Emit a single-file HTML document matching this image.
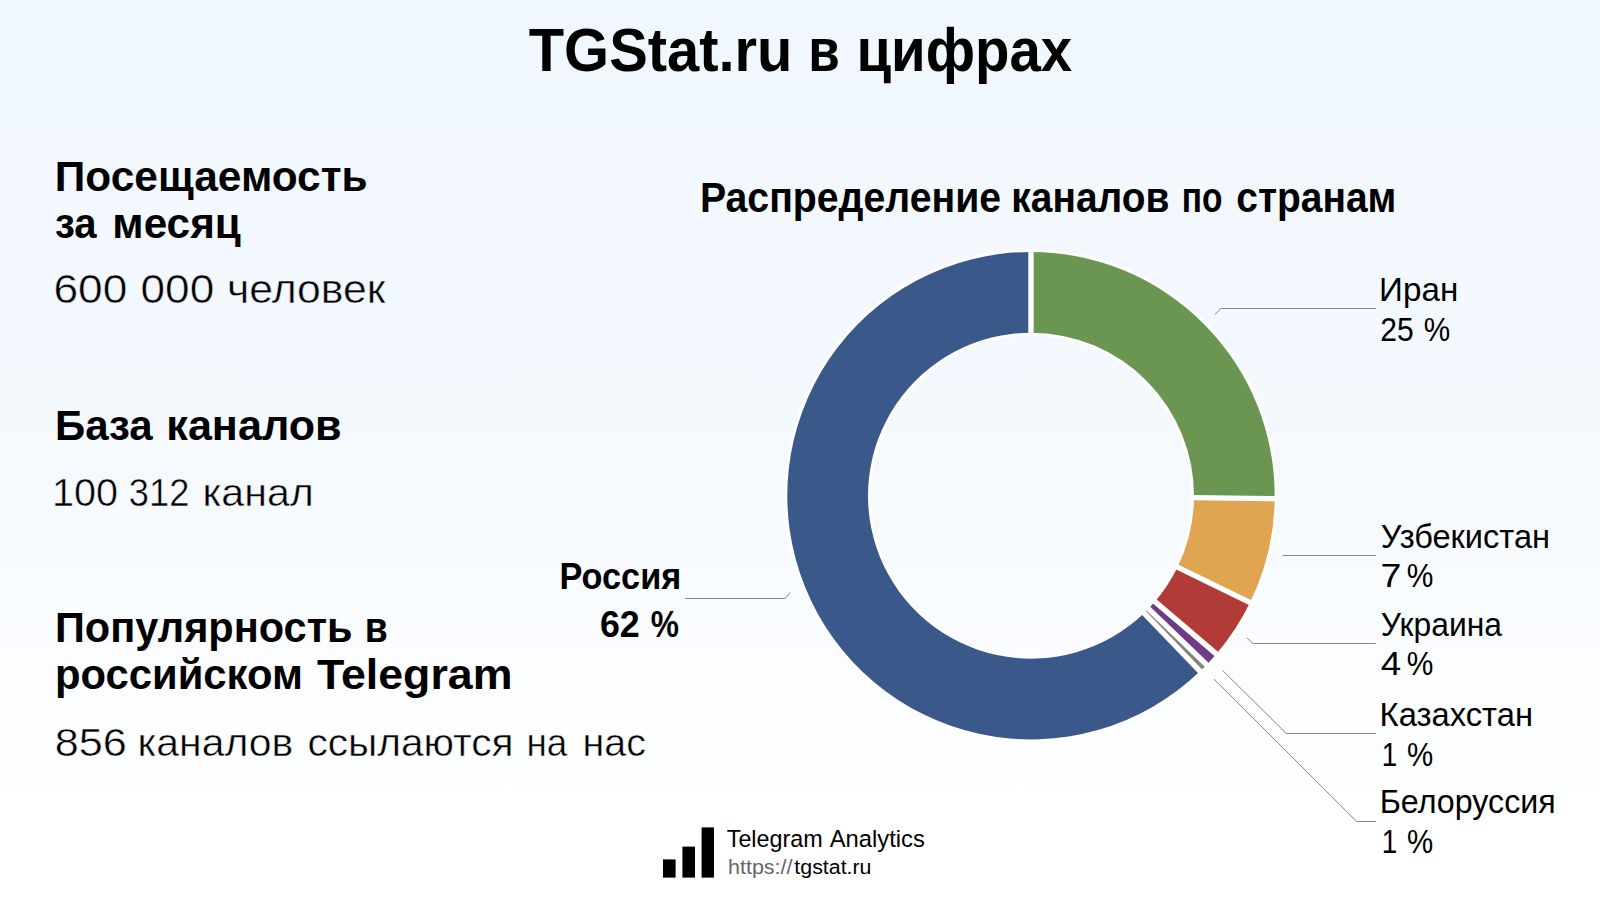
<!DOCTYPE html>
<html lang="ru">
<head>
<meta charset="utf-8">
<title>TGStat.ru в цифрах</title>
<style>
html,body{margin:0;padding:0;}
body{width:1600px;height:900px;overflow:hidden;background:#fff;}
svg{display:block;position:absolute;left:0;top:0;}
text{font-family:"Liberation Sans",sans-serif;fill:#000;}
text.b{font-weight:bold;}
text.r{font-weight:normal;}
text.l1,text.l2,text.l3{stroke-width:0.5px;stroke-linejoin:round;}
text.l1{stroke:#f3f7fe;}
text.l2{stroke:#f6f9fe;}
text.l3{stroke:#fbfcff;}
</style>
</head>
<body>
<svg width="1600" height="900" viewBox="0 0 1600 900">
<defs>
<linearGradient id="bg" x1="0" y1="0" x2="0" y2="1">
<stop offset="0" stop-color="#f0f7fe"/>
<stop offset="0.45" stop-color="#f4f9fe"/>
<stop offset="0.65" stop-color="#f8fbff"/>
<stop offset="0.82" stop-color="#fdfeff"/>
<stop offset="1" stop-color="#ffffff"/>
</linearGradient>
</defs>
<rect width="1600" height="900" fill="url(#bg)"/>
<rect x="650" y="815" width="300" height="80" fill="#fff"/>
<g>
<circle cx="1031.0" cy="495.7" r="203.35" fill="none" stroke="#fff" stroke-width="86.3"/>
<path d="M1031.00 252.00A243.7 243.7 0 0 1 1274.68 498.68L1193.99 497.69A163.0 163.0 0 0 0 1031.00 332.70Z" fill="#6b9651"/>
<path d="M1274.68 498.68A243.7 243.7 0 0 1 1250.04 602.53L1177.50 567.15A163.0 163.0 0 0 0 1193.99 497.69Z" fill="#dfa550"/>
<path d="M1250.04 602.53A243.7 243.7 0 0 1 1216.31 653.97L1154.95 601.56A163.0 163.0 0 0 0 1177.50 567.15Z" fill="#b23b38"/>
<path d="M1216.31 653.97A243.7 243.7 0 0 1 1206.60 664.68L1148.45 608.72A163.0 163.0 0 0 0 1154.95 601.56Z" fill="#6c3c88"/>
<path d="M1206.60 664.68A243.7 243.7 0 0 1 1199.98 671.30L1144.02 613.15A163.0 163.0 0 0 0 1148.45 608.72Z" fill="#838383"/>
<path d="M1199.98 671.30A243.7 243.7 0 1 1 1031.00 252.00L1031.00 332.70A163.0 163.0 0 1 0 1144.02 613.15Z" fill="#3a5889"/>
<g stroke="#fff" stroke-width="5.4">
<line x1="1031.00" y1="335.70" x2="1031.00" y2="249.00"/>
<line x1="1190.99" y1="497.65" x2="1277.68" y2="498.71"/>
<line x1="1174.81" y1="565.84" x2="1252.73" y2="603.85"/>
<line x1="1152.66" y1="599.61" x2="1218.59" y2="655.92"/>
<line x1="1146.29" y1="606.64" x2="1208.76" y2="666.76"/>
<line x1="1141.94" y1="610.99" x2="1202.06" y2="673.46"/>
</g>
</g>
<g fill="none" stroke="#868686" stroke-width="1">
<path d="M685 598.5H785.2L790.3 592.3"/>
<path d="M1375.8 308.5H1221L1215 314.3"/>
<path d="M1375.8 555.5H1282.75"/>
<path d="M1375.8 643.5H1253L1247 637.8"/>
<path d="M1376 733.5H1286.3L1222.5 670.3"/>
<path d="M1376 821.5H1356.7L1214 679.2"/>
</g>
<g fill="#000">
<rect x="663" y="859.4" width="12.6" height="18.2"/>
<rect x="682.4" y="846.6" width="12.6" height="31"/>
<rect x="701.6" y="827.4" width="12.4" height="50.2"/>
</g>
<text class="b" y="71.20" font-size="62"><tspan x="528.75" textLength="263.70" lengthAdjust="spacingAndGlyphs">TGStat.ru</tspan> <tspan x="808.29" textLength="31.59" lengthAdjust="spacingAndGlyphs">в</tspan> <tspan x="856.48" textLength="215.66" lengthAdjust="spacingAndGlyphs">цифрах</tspan></text>
<text class="b" y="190.50" font-size="42"><tspan x="54.85" textLength="312.71" lengthAdjust="spacingAndGlyphs">Посещаемость</tspan></text>
<text class="b" y="237.50" font-size="42"><tspan x="54.97" textLength="41.67" lengthAdjust="spacingAndGlyphs">за</tspan> <tspan x="112.36" textLength="128.47" lengthAdjust="spacingAndGlyphs">месяц</tspan></text>
<text class="b" y="440.00" font-size="42"><tspan x="54.97" textLength="97.76" lengthAdjust="spacingAndGlyphs">База</tspan> <tspan x="166.30" textLength="175.27" lengthAdjust="spacingAndGlyphs">каналов</tspan></text>
<text class="b" y="641.50" font-size="42"><tspan x="55.01" textLength="297.51" lengthAdjust="spacingAndGlyphs">Популярность</tspan> <tspan x="364.67" textLength="22.95" lengthAdjust="spacingAndGlyphs">в</tspan></text>
<text class="b" y="688.80" font-size="42"><tspan x="54.99" textLength="247.85" lengthAdjust="spacingAndGlyphs">российском</tspan> <tspan x="317.00" textLength="195.43" lengthAdjust="spacingAndGlyphs">Telegram</tspan></text>
<text class="b" y="212.00" font-size="42"><tspan x="699.95" textLength="301.13" lengthAdjust="spacingAndGlyphs">Распределение</tspan> <tspan x="1011.32" textLength="158.11" lengthAdjust="spacingAndGlyphs">каналов</tspan> <tspan x="1181.66" textLength="40.69" lengthAdjust="spacingAndGlyphs">по</tspan> <tspan x="1236.28" textLength="160.11" lengthAdjust="spacingAndGlyphs">странам</tspan></text>
<text class="b" y="589.00" font-size="37"><tspan x="559.56" textLength="121.67" lengthAdjust="spacingAndGlyphs">Россия</tspan></text>
<text class="b" y="636.50" font-size="36"><tspan x="599.88" textLength="39.76" lengthAdjust="spacingAndGlyphs">62</tspan> <tspan x="650.75" textLength="28.19" lengthAdjust="spacingAndGlyphs">%</tspan></text>
<text class="r l1" y="302.80" font-size="40"><tspan x="53.53" textLength="73.83" lengthAdjust="spacingAndGlyphs">600</tspan> <tspan x="140.52" textLength="73.68" lengthAdjust="spacingAndGlyphs">000</tspan> <tspan x="227.00" textLength="158.54" lengthAdjust="spacingAndGlyphs">человек</tspan></text>
<text class="r l2" y="505.60" font-size="39.5"><tspan x="51.93" textLength="66.06" lengthAdjust="spacingAndGlyphs">100</tspan> <tspan x="128.86" textLength="60.61" lengthAdjust="spacingAndGlyphs">312</tspan> <tspan x="202.43" textLength="111.36" lengthAdjust="spacingAndGlyphs">канал</tspan></text>
<text class="r l3" y="756.20" font-size="39.5"><tspan x="54.65" textLength="72.10" lengthAdjust="spacingAndGlyphs">856</tspan> <tspan x="137.44" textLength="155.84" lengthAdjust="spacingAndGlyphs">каналов</tspan> <tspan x="307.48" textLength="206.09" lengthAdjust="spacingAndGlyphs">ссылаются</tspan> <tspan x="526.45" textLength="40.82" lengthAdjust="spacingAndGlyphs">на</tspan> <tspan x="582.54" textLength="63.38" lengthAdjust="spacingAndGlyphs">нас</tspan></text>
<text class="r" y="300.60" font-size="32.5"><tspan x="1379.11" textLength="79.15" lengthAdjust="spacingAndGlyphs">Иран</tspan></text>
<text class="r" y="340.90" font-size="32.5"><tspan x="1380.29" textLength="33.43" lengthAdjust="spacingAndGlyphs">25</tspan> <tspan x="1423.87" textLength="26.41" lengthAdjust="spacingAndGlyphs">%</tspan></text>
<text class="r" y="547.70" font-size="32.5"><tspan x="1380.79" textLength="169.22" lengthAdjust="spacingAndGlyphs">Узбекистан</tspan></text>
<text class="r" y="587.30" font-size="32.5"><tspan x="1380.44" textLength="20.88" lengthAdjust="spacingAndGlyphs">7</tspan> <tspan x="1406.66" textLength="26.63" lengthAdjust="spacingAndGlyphs">%</tspan></text>
<text class="r" y="636.10" font-size="32.5"><tspan x="1380.80" textLength="121.20" lengthAdjust="spacingAndGlyphs">Украина</tspan></text>
<text class="r" y="675.00" font-size="32.5"><tspan x="1380.73" textLength="20.39" lengthAdjust="spacingAndGlyphs">4</tspan> <tspan x="1406.66" textLength="26.63" lengthAdjust="spacingAndGlyphs">%</tspan></text>
<text class="r" y="726.40" font-size="32.5"><tspan x="1379.64" textLength="153.38" lengthAdjust="spacingAndGlyphs">Казахстан</tspan></text>
<text class="r" y="765.80" font-size="32.5"><tspan x="1381.86" textLength="15.46" lengthAdjust="spacingAndGlyphs">1</tspan> <tspan x="1406.88" textLength="26.20" lengthAdjust="spacingAndGlyphs">%</tspan></text>
<text class="r" y="813.20" font-size="32.5"><tspan x="1379.68" textLength="176.06" lengthAdjust="spacingAndGlyphs">Белоруссия</tspan></text>
<text class="r" y="852.50" font-size="32.5"><tspan x="1381.86" textLength="15.46" lengthAdjust="spacingAndGlyphs">1</tspan> <tspan x="1406.88" textLength="26.20" lengthAdjust="spacingAndGlyphs">%</tspan></text>
<text class="r" y="846.50" font-size="24.5"><tspan x="726.72" textLength="96.01" lengthAdjust="spacingAndGlyphs">Telegram</tspan> <tspan x="829.70" textLength="95.12" lengthAdjust="spacingAndGlyphs">Analytics</tspan></text>
<text class="r" y="873.50" font-size="20"><tspan x="728.00" textLength="64.55" lengthAdjust="spacingAndGlyphs" fill="#666">https://</tspan><tspan x="794.38" textLength="77.13" lengthAdjust="spacingAndGlyphs">tgstat.ru</tspan></text>
</svg>
</body>
</html>
